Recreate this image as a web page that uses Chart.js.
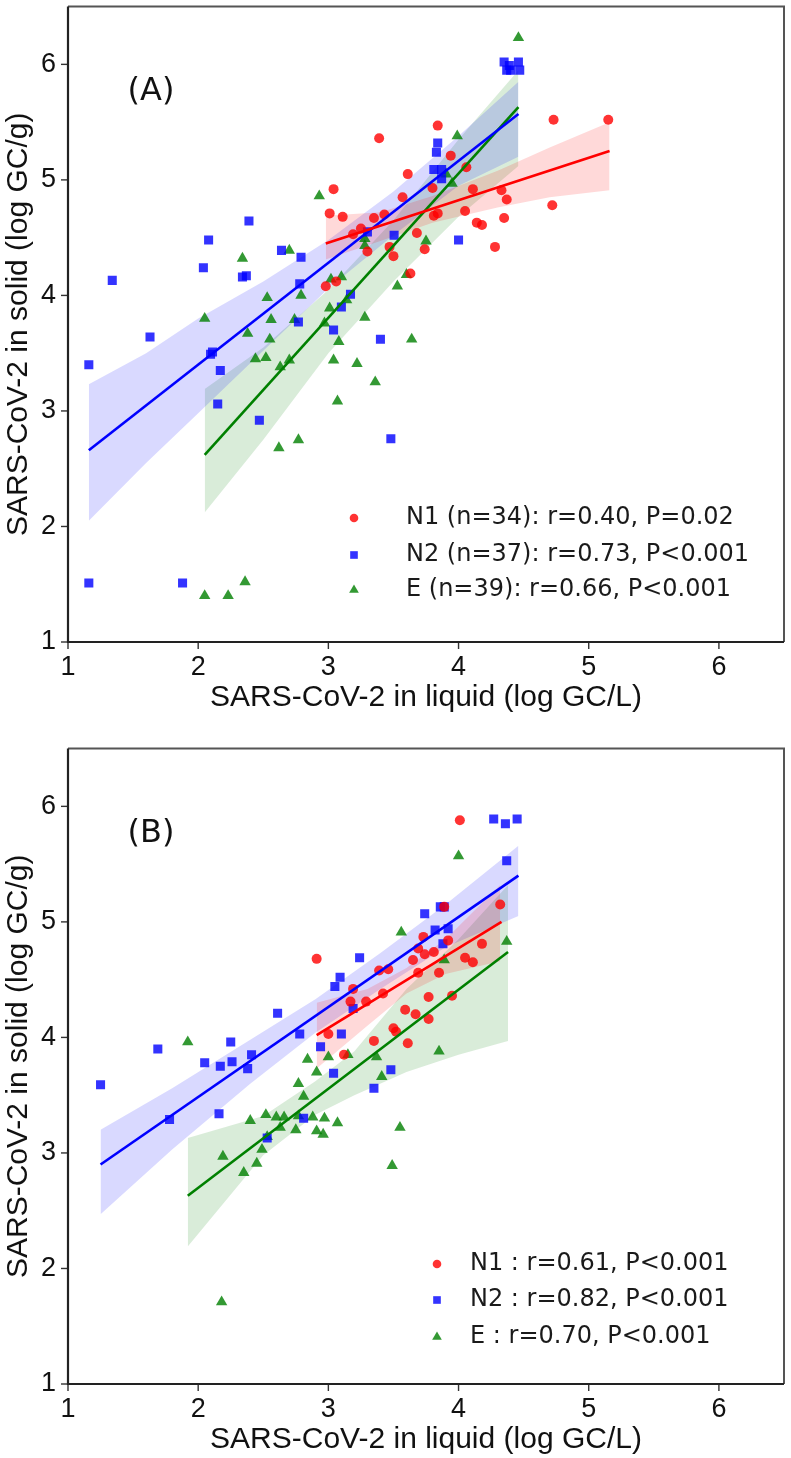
<!DOCTYPE html>
<html>
<head>
<meta charset="utf-8">
<title>SARS-CoV-2 in liquid vs solid</title>
<script src="https://cdn.jsdelivr.net/npm/chart.js@4.4.1/dist/chart.umd.min.js"></script>
<style>
  html, body { margin: 0; padding: 0; background: #fff; }
  #wrap { position: relative; width: 791px; height: 1458px; }
  .panel { position: absolute; left: 0; width: 791px; height: 716px; }
  #panel-a { top: 0; }
  #panel-b { top: 742px; }
</style>
</head>
<body>
<div id="wrap">
  <div class="panel" id="panel-a"><canvas id="chart-a" width="791" height="716"></canvas></div>
  <div class="panel" id="panel-b"><canvas id="chart-b" width="791" height="716"></canvas></div>
</div>
<script>
'use strict';

//***********Axis labels***********
let xTitle = 'SARS-CoV-2 in liquid (log GC/L)';
let yTitle = 'SARS-CoV-2 in solid (log GC/g)';
let tickLabels = ['1', '2', '3', '4', '5', '6'];

//***********Panel (A) data [liquid, solid]***********
let n1A = [[2.98, 4.08], [3.01, 4.71], [3.04, 4.92], [3.06, 4.12], [3.11, 4.68], [3.19, 4.53], [3.25, 4.58],
  [3.30, 4.38], [3.35, 4.67], [3.39, 5.36], [3.43, 4.70], [3.47, 4.42], [3.50, 4.34], [3.57, 4.85],
  [3.61, 5.05], [3.63, 4.19], [3.68, 4.54], [3.74, 4.40], [3.80, 4.93], [3.81, 4.69], [3.84, 4.71],
  [3.84, 5.47], [3.94, 5.21], [4.05, 4.73], [4.06, 5.11], [4.11, 4.92], [4.14, 4.63], [4.18, 4.61],
  [4.28, 4.42], [4.33, 4.91], [4.35, 4.67], [4.37, 4.83], [4.72, 4.78], [4.73, 5.52], [5.15, 5.52]];
let n2A = [[1.16, 3.40], [1.34, 4.13], [1.63, 3.64], [2.08, 4.48], [2.04, 4.24], [2.39, 4.645], [2.34, 4.16],
  [2.37, 4.17], [2.64, 4.39], [2.79, 4.33], [2.78, 4.10], [2.77, 3.77], [2.095, 3.49], [2.11, 3.51],
  [2.17, 3.35], [3.04, 3.70], [3.10, 3.90], [3.17, 4.01], [3.30, 4.55], [3.505, 4.52], [3.40, 3.62],
  [3.84, 5.32], [3.83, 5.24], [3.81, 5.09], [3.87, 5.09], [3.87, 5.01], [4.35, 6.02], [4.39, 5.99],
  [4.37, 5.95], [4.40, 5.95], [4.46, 6.02], [4.47, 5.95], [4.00, 4.48], [2.15, 3.06], [2.47, 2.92],
  [3.48, 2.76], [1.16, 1.51], [1.88, 1.51]];
let eA = [[2.05, 3.80], [2.05, 1.40], [2.23, 1.40], [2.34, 4.32], [2.36, 1.52], [2.38, 3.67], [2.44, 3.45],
  [2.52, 3.46], [2.53, 3.98], [2.55, 3.62], [2.56, 3.79], [2.62, 2.68], [2.63, 3.38], [2.70, 4.39],
  [2.70, 3.44], [2.74, 3.79], [2.77, 2.75], [2.79, 4.00], [2.93, 4.86], [2.97, 3.76], [3.01, 3.89],
  [3.02, 4.14], [3.04, 3.44], [3.07, 3.085], [3.08, 3.60], [3.10, 4.16], [3.14, 3.96], [3.22, 3.41],
  [3.28, 4.49], [3.28, 4.43], [3.28, 3.81], [3.36, 3.25], [3.53, 4.08], [3.60, 4.18], [3.64, 3.62],
  [3.75, 4.47], [3.905, 5.05], [3.95, 4.97], [3.99, 5.38], [4.46, 6.23]];

// fitted lines (end points)
let n1LineA = [[2.98, 4.45], [5.16, 5.25]];
let n2LineA = [[1.16, 2.66], [4.46, 5.57]];
let eLineA = [[2.05, 2.62], [4.46, 5.63]];

// confidence bands
let n1BandAX = [2.98, 3.4, 3.8, 4.3, 4.7, 5.16];
let n1BandAUp = [4.69, 4.72, 4.86, 5.08, 5.28, 5.50];
let n1BandALo = [4.31, 4.47, 4.63, 4.76, 4.85, 4.91];
let n2BandAX = [1.16, 1.6, 2.0, 2.5, 3.0, 3.5, 4.0, 4.46];
let n2BandAUp = [3.23, 3.50, 3.80, 4.12, 4.48, 4.90, 5.38, 5.85];
let n2BandALo = [2.05, 2.55, 2.98, 3.52, 4.06, 4.52, 4.95, 5.20];
let eBandAX = [2.05, 2.5, 3.0, 3.5, 4.0, 4.46];
let eBandAUp = [3.19, 3.55, 4.05, 4.65, 5.35, 5.95];
let eBandALo = [2.12, 2.75, 3.50, 4.12, 4.68, 5.12];

let legendA = ['N1 (n=34): r=0.40, P=0.02', 'N2 (n=37): r=0.73, P<0.001', 'E (n=39): r=0.66, P<0.001'];

//***********Panel (B) data [liquid, solid]***********
let n1B = [[2.91, 4.68], [3.00, 4.03], [3.12, 3.85], [3.17, 4.31], [3.19, 4.42], [3.29, 4.31], [3.35, 3.97],
  [3.39, 4.58], [3.42, 4.38], [3.46, 4.59], [3.50, 4.08], [3.52, 4.05], [3.59, 4.24], [3.61, 3.95],
  [3.65, 4.67], [3.67, 4.20], [3.69, 4.56], [3.69, 4.77], [3.73, 4.87], [3.74, 4.72], [3.77, 4.35],
  [3.77, 4.16], [3.81, 4.74], [3.85, 4.56], [3.89, 5.13], [3.92, 4.84], [3.95, 4.36], [4.01, 5.88],
  [4.05, 4.69], [4.11, 4.65], [4.18, 4.81], [4.32, 5.15]];
let n2B = [[1.25, 3.59], [1.69, 3.90], [1.78, 3.29], [2.05, 3.78], [2.16, 3.34], [2.17, 3.75], [2.25, 3.96],
  [2.26, 3.79], [2.38, 3.73], [2.41, 3.85], [2.53, 3.13], [2.61, 4.21], [2.78, 4.03], [2.81, 3.30],
  [2.94, 3.92], [3.04, 3.69], [3.05, 4.44], [3.09, 4.52], [3.10, 4.03], [3.19, 4.25], [3.24, 4.69],
  [3.35, 3.56], [3.48, 3.72], [3.74, 5.07], [3.86, 5.13], [3.89, 5.13], [3.82, 4.93], [3.92, 4.94],
  [3.88, 4.81], [4.27, 5.89], [4.36, 5.85], [4.45, 5.89], [4.37, 5.53]];
let eB = [[1.92, 3.96], [2.18, 1.71], [2.19, 2.97], [2.35, 2.83], [2.40, 3.28], [2.45, 2.91], [2.49, 3.03],
  [2.52, 3.33], [2.53, 3.14], [2.60, 3.31], [2.63, 3.22], [2.66, 3.31], [2.75, 3.20], [2.77, 3.32],
  [2.77, 3.60], [2.81, 3.49], [2.84, 3.81], [2.88, 3.31], [2.91, 3.19], [2.91, 3.70], [2.96, 3.16],
  [2.97, 3.30], [3.00, 3.83], [3.07, 3.26], [3.15, 3.85], [3.37, 3.83], [3.41, 3.66], [3.49, 2.89],
  [3.55, 3.22], [3.56, 4.91], [3.85, 3.88], [3.89, 4.67], [4.00, 5.57], [4.37, 4.83]];

let n1LineB = [[2.91, 4.02], [4.33, 5.00]];
let n2LineB = [[1.25, 2.90], [4.46, 5.40]];
let eLineB = [[1.92, 2.63], [4.38, 4.74]];

let n1BandBX = [2.91, 3.3, 3.6, 3.9, 4.32];
let n1BandBUp = [4.30, 4.42, 4.60, 4.85, 5.32];
let n1BandBLo = [3.73, 4.10, 4.38, 4.55, 4.66];
let n2BandBX = [1.25, 1.8, 2.4, 2.9, 3.4, 3.9, 4.46];
let n2BandBUp = [3.20, 3.56, 3.98, 4.33, 4.73, 5.15, 5.66];
let n2BandBLo = [2.47, 3.03, 3.60, 4.04, 4.42, 4.78, 5.05];
let eBandBX = [1.92, 2.5, 2.9, 3.2, 3.6, 4.0, 4.38];
let eBandBUp = [3.13, 3.32, 3.62, 3.88, 4.42, 4.85, 5.32];
let eBandBLo = [2.19, 2.98, 3.33, 3.50, 3.70, 3.85, 3.97];

let legendB = ['N1 : r=0.61, P<0.001', 'N2 : r=0.82, P<0.001', 'E : r=0.70, P<0.001'];

//***********Styles***********
let red = '255, 0, 0';
let blue = '0, 0, 255';
let green = '0, 128, 0';
let axisFont = '\'Liberation Sans\', Arial, sans-serif';
let legendFont = '\'DejaVu Sans\', sans-serif';

//***********Helper functions***********
function toPoints(pairs) {
  return pairs.map(p => ({ x: p[0], y: p[1] }));
}

function bandPoints(xs, ys) {
  return xs.map((x, i) => ({ x: x, y: ys[i] }));
}

function seriesSets(name, rgb, style, radius, pts, line, bandX, bandUp, bandLo) {
  return [
    {
      label: name, type: 'scatter', data: toPoints(pts),
      pointStyle: style, pointRadius: radius, pointHoverRadius: radius,
      backgroundColor: `rgba(${rgb}, 0.8)`, borderColor: `rgba(${rgb}, 0.8)`, borderWidth: 0,
      order: 1
    },
    {
      label: name + ' fit', type: 'line', data: toPoints(line),
      borderColor: `rgb(${rgb})`, borderWidth: 2.6, pointRadius: 0, fill: false, order: 0
    },
    {
      label: name + ' ci upper', type: 'line', data: bandPoints(bandX, bandUp),
      borderColor: 'rgba(0,0,0,0)', borderWidth: 0, pointRadius: 0, fill: false, order: 2
    },
    {
      label: name + ' ci lower', type: 'line', data: bandPoints(bandX, bandLo),
      borderColor: 'rgba(0,0,0,0)', borderWidth: 0, pointRadius: 0,
      backgroundColor: `rgba(${rgb}, 0.15)`, fill: '-1', order: 2
    }
  ];
}

function tickLabel(value) {
  let r = Math.round(value);
  if (Math.abs(value - r) < 1e-6 && tickLabels.includes(String(r))) {
    return String(r);
  }
  return null;
}

function axisCfg(axis) {
  let isX = axis === 'x';
  return {
    type: 'linear',
    min: 1,
    max: 6.5,
    bounds: 'data',
    ticks: {
      stepSize: 0.2,
      includeBounds: false,
      autoSkip: false,
      maxRotation: 0,
      padding: isX ? 9 : 12,
      color: '#111',
      font: { family: axisFont, size: 27 },
      callback: tickLabel
    },
    grid: { drawOnChartArea: false, drawTicks: false },
    border: { display: false },
    title: {
      display: true,
      text: isX ? xTitle : yTitle,
      color: '#111',
      font: { family: axisFont, size: 30 },
      padding: isX ? { top: 0, bottom: 0 } : { top: 1, bottom: 0 }
    },
    afterFit: function (scale) {
      if (isX) {
        scale.height = 74;
        scale.paddingLeft = 0;
        scale.paddingRight = 0;
      } else {
        scale.width = 68;
        scale.paddingTop = 0;
        scale.paddingBottom = 0;
      }
    }
  };
}

function drawMarker(ctx, style, r, x, y, color) {
  ctx.fillStyle = color;
  if (Chart.helpers && Chart.helpers.drawPoint) {
    Chart.helpers.drawPoint(ctx, { pointStyle: style, radius: r, rotation: 0, borderWidth: 0 }, x, y);
    return;
  }
  ctx.beginPath();
  ctx.arc(x, y, r, 0, Math.PI * 2);
  ctx.fill();
}

//***********Plugins***********
// frame round the plot and the outside tick marks
let frameTicks = {
  id: 'frameTicks',
  afterDraw(chart) {
    let ctx = chart.ctx;
    let area = chart.chartArea;
    ctx.save();
    ctx.strokeStyle = '#333';
    ctx.lineWidth = 1.4;
    let xs = chart.scales.x;
    xs.ticks.forEach(t => {
      let px = xs.getPixelForValue(t.value);
      let len = Math.abs(t.value - Math.round(t.value)) < 1e-6 ? 7 : 4.5;
      ctx.beginPath();
      ctx.moveTo(px, area.bottom);
      ctx.lineTo(px, area.bottom + len);
      ctx.stroke();
    });
    let ys = chart.scales.y;
    ys.ticks.forEach(t => {
      let py = ys.getPixelForValue(t.value);
      let len = Math.abs(t.value - Math.round(t.value)) < 1e-6 ? 7 : 4.5;
      ctx.beginPath();
      ctx.moveTo(area.left, py);
      ctx.lineTo(area.left - len, py);
      ctx.stroke();
    });
    // top and right edges
    ctx.strokeStyle = '#555';
    ctx.lineWidth = 2;
    ctx.beginPath();
    ctx.moveTo(area.left, area.top);
    ctx.lineTo(area.right, area.top);
    ctx.lineTo(area.right, area.bottom);
    ctx.stroke();
    // axis lines
    ctx.strokeStyle = '#222';
    ctx.lineWidth = 2.2;
    ctx.beginPath();
    ctx.moveTo(area.left, area.top);
    ctx.lineTo(area.left, area.bottom);
    ctx.lineTo(area.right, area.bottom);
    ctx.stroke();
    ctx.restore();
  }
};

// panel letter and the legend inside the plot
let panelNotes = {
  id: 'panelNotes',
  afterDraw(chart, args, opts) {
    let ctx = chart.ctx;
    let area = chart.chartArea;
    ctx.save();
    ctx.fillStyle = '#111';
    ctx.font = `32px ${legendFont}`;
    ctx.textAlign = 'center';
    ctx.textBaseline = 'middle';
    ctx.fillText(opts.letter, area.left + 83, area.top + 85);

    let scatters = chart.data.datasets.filter(d => d.type === 'scatter');
    let sizes = { circle: 4.3, rect: 5.4, triangle: 5.6 };
    ctx.font = `24px ${legendFont}`;
    ctx.textAlign = 'left';
    scatters.forEach((d, i) => {
      let y = area.bottom - opts.rows[i];
      drawMarker(ctx, d.pointStyle, sizes[d.pointStyle], area.left + opts.markerDx, y, d.backgroundColor);
      ctx.fillStyle = '#1a1a1a';
      ctx.fillText(opts.labels[i], area.left + opts.textDx, y);
    });
    ctx.restore();
  }
};

//***********Chart builder***********
function makePanel(canvasId, sets, notes) {
  let ctx = document.getElementById(canvasId).getContext('2d');
  return new Chart(ctx, {
    type: 'scatter',
    data: { datasets: sets },
    options: {
      responsive: false,
      animation: false,
      devicePixelRatio: 1,
      layout: { padding: { top: 2, right: 7, bottom: 0, left: 0 } },
      scales: { x: axisCfg('x'), y: axisCfg('y') },
      plugins: {
        legend: { display: false },
        tooltip: { enabled: false },
        panelNotes: notes
      }
    },
    plugins: [frameTicks, panelNotes]
  });
}

let setsA = [].concat(
  seriesSets('N1', red, 'circle', 5, n1A, n1LineA, n1BandAX, n1BandAUp, n1BandALo),
  seriesSets('N2', blue, 'rect', 6.4, n2A, n2LineA, n2BandAX, n2BandAUp, n2BandALo),
  seriesSets('E', green, 'triangle', 6.6, eA, eLineA, eBandAX, eBandAUp, eBandALo)
);
let setsB = [].concat(
  seriesSets('N1', red, 'circle', 5, n1B, n1LineB, n1BandBX, n1BandBUp, n1BandBLo),
  seriesSets('N2', blue, 'rect', 6.4, n2B, n2LineB, n2BandBX, n2BandBUp, n2BandBLo),
  seriesSets('E', green, 'triangle', 6.6, eB, eLineB, eBandBX, eBandBUp, eBandBLo)
);

makePanel('chart-a', setsA, { letter: '(A)', labels: legendA, markerDx: 286, textDx: 338, rows: [124, 87, 52] });
makePanel('chart-b', setsB, { letter: '(B)', labels: legendB, markerDx: 369, textDx: 402, rows: [120, 84, 47] });
</script>
</body>
</html>
